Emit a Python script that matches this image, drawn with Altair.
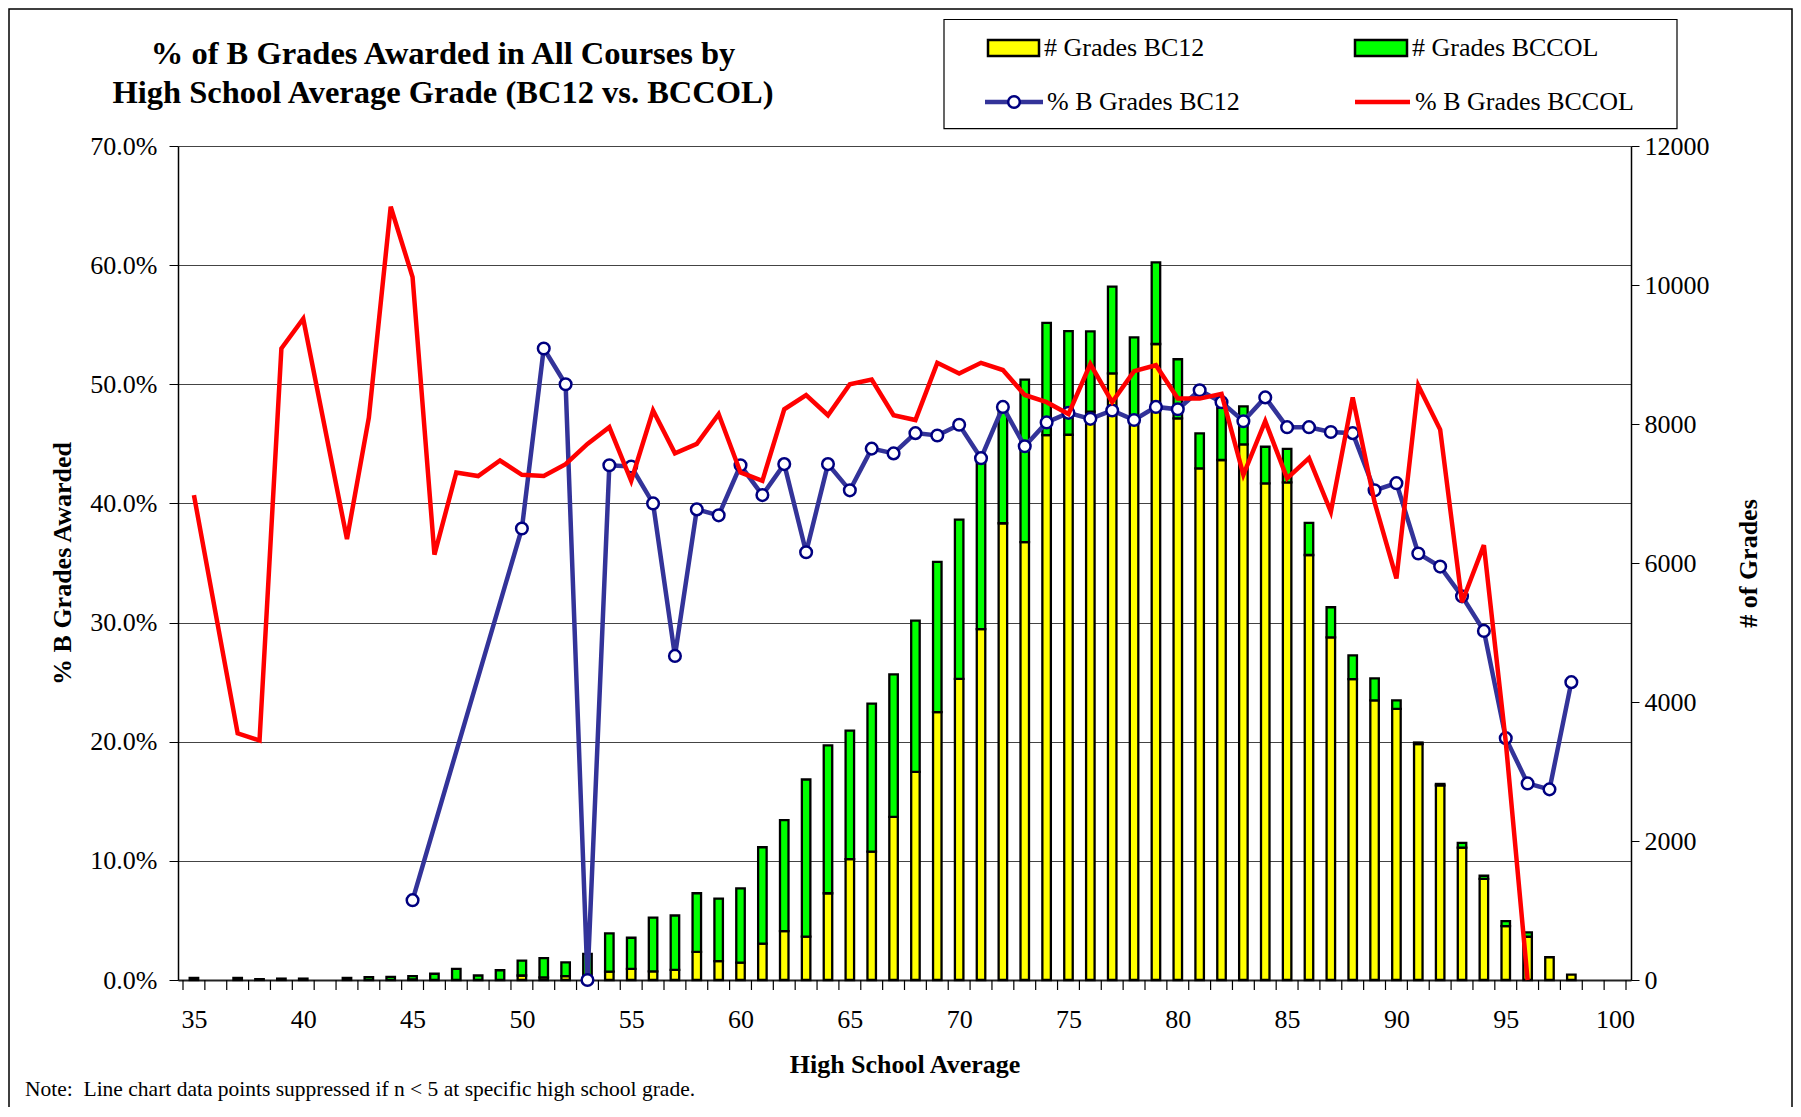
import altair as alt
import pandas as pd

SERIF = "Liberation Serif"

# ---- data ----
categories = list(range(35, 101))

total_grades = [30, 0, 30, 12, 20, 20, 0, 30, 40, 45,
                55, 90, 160, 65, 140, 280, 315, 255, 375, 670,
                608, 897, 928, 1248, 1170, 1318, 1910, 2300, 2885, 3376,
                3587, 3977, 4398, 5170, 6015, 6625, 7500, 8280, 8638, 9455,
                9337, 9333, 9976, 9247, 10326, 8932, 7866, 8232, 8255, 7673,
                7641, 6577, 5363, 4670, 4340, 4024, 3417, 2821, 1974, 1500,
                846, 686, 327, 77, 0, 0]

bc12_grades = [0, 0, 0, 0, 0, 0, 0, 0, 0, 0,
               8, 0, 0, 0, 0, 65, 37, 56, 20, 120,
               160, 125, 145, 405, 273, 250, 522, 702, 624, 1248,
               1739, 1848, 2347, 2994, 3855, 4333, 5048, 6572, 6299, 7840,
               7845, 8177, 8729, 8024, 9151, 8082, 7362, 7482, 7708, 7146,
               7160, 6115, 4930, 4329, 4022, 3900, 3395, 2800, 1904, 1455,
               776, 622, 327, 77, 0, 0]

N = None
pct_b_bc12 = [N, N, N, N, N, N, N, N, N, N,
              6.7, N, N, N, N, 37.9, 53.0, 50.0, 0.0, 43.2,
              43.1, 40.0, 27.2, 39.5, 39.0, 43.2, 40.7, 43.3, 35.9, 43.3,
              41.1, 44.6, 44.2, 45.9, 45.7, 46.6, 43.8, 48.1, 44.8, 46.8,
              47.6, 47.1, 47.8, 47.0, 48.1, 47.9, 49.5, 48.5, 46.9, 48.9,
              46.4, 46.4, 46.0, 45.9, 41.1, 41.7, 35.8, 34.7, 32.2, 29.3,
              20.3, 16.5, 16.0, 25.0, N, N]

pct_b_bccol = [40.7, N, 20.7, 20.1, 53.0, 55.5, N, 37.0, 47.2, 64.9,
               59.0, 35.7, 42.6, 42.3, 43.6, 42.4, 42.3, 43.3, 45.0, 46.4,
               41.9, 47.8, 44.2, 45.0, 47.5, 42.6, 41.9, 47.9, 49.1, 47.4,
               50.0, 50.4, 47.4, 47.0, 51.8, 50.9, 51.8, 51.2, 49.1, 48.5,
               47.5, 51.7, 48.5, 51.1, 51.6, 48.8, 48.8, 49.2, 42.4, 46.9,
               42.1, 43.8, 39.3, 48.9, 40.1, 33.7, 49.9, 46.2, 31.7, 36.5,
               20.0, 0.0, N, N, N, N]

x_label_values = list(range(35, 101, 5))
pct_ticks = [0, 10, 20, 30, 40, 50, 60, 70]
count_ticks = [0, 2000, 4000, 6000, 8000, 10000, 12000]

df = pd.DataFrame({
    "cat": categories,
    "total": total_grades,
    "bc12": bc12_grades,
    "p12": pct_b_bc12,
    "pcol": pct_b_bccol,
})
bounds = pd.DataFrame({"b": [c - 0.5 for c in categories] + [categories[-1] + 0.5]})
one = pd.DataFrame({"k": [0]})

W, H = 1453, 834

xscale = alt.Scale(domain=[34.5, 100.5], nice=False, zero=False)
xaxis = alt.Axis(values=x_label_values, ticks=False, grid=False,
                 domainColor="#222222", domainWidth=2,
                 labelFont=SERIF, labelFontSize=26, labelColor="black", labelPadding=26,
                 title="High School Average", titleFont=SERIF, titleFontSize=26,
                 titleFontWeight="bold", titleColor="black", titlePadding=19)
X = alt.X("cat:Q", scale=xscale, axis=xaxis)

count_axis = alt.Axis(orient="right", values=count_ticks, format="d", grid=False,
                      domainColor="black", domainWidth=1.5, tickColor="black", tickSize=8,
                      labelFont=SERIF, labelFontSize=26, labelColor="black", labelPadding=5,
                      title="# of Grades", titleFont=SERIF, titleFontSize=26,
                      titleFontWeight="bold", titleColor="black", titleAngle=270,
                      titlePadding=52, zindex=0)
count_scale = alt.Scale(domain=[0, 12000], nice=False)

pct_axis = alt.Axis(orient="left", values=pct_ticks, grid=True, gridColor="#444444",
                    gridWidth=1, labelExpr="format(datum.value, '.1f') + '%'",
                    domainColor="black", domainWidth=1.5, tickColor="black", tickSize=9,
                    labelFont=SERIF, labelFontSize=26, labelColor="black", labelPadding=12,
                    title="% B Grades Awarded", titleFont=SERIF, titleFontSize=26,
                    titleFontWeight="bold", titleColor="black", titlePadding=14, zindex=0)
pct_scale = alt.Scale(domain=[0, 70], nice=False)

base = alt.Chart(df)

yellow = base.transform_filter("datum.bc12 > 0").mark_bar(
    size=8.5, color="#FFFF00", stroke="black", strokeWidth=2.3
).encode(x=X, y=alt.Y("bc12:Q", scale=count_scale, axis=count_axis))

green = base.transform_filter("datum.total > datum.bc12").mark_bar(
    size=8.5, color="#00FF00", stroke="black", strokeWidth=2.3
).encode(x=X, y=alt.Y("total:Q", scale=count_scale, axis=count_axis), y2="bc12:Q")

bars = alt.layer(yellow, green)

blue_line = base.transform_filter("datum.p12 != null").mark_line(
    color="#333399", strokeWidth=4.5
).encode(x=X, y=alt.Y("p12:Q", scale=pct_scale, axis=pct_axis))

blue_pts = base.transform_filter("datum.p12 != null").mark_circle(
    color="white", stroke="#000080", strokeWidth=2.5, size=135, opacity=1
).encode(x=X, y=alt.Y("p12:Q", scale=pct_scale, axis=pct_axis))

red_line = base.transform_filter("datum.pcol != null").mark_line(
    color="#FF0000", strokeWidth=4.5
).encode(x=X, y=alt.Y("pcol:Q", scale=pct_scale, axis=pct_axis))

lines = alt.layer(blue_line, blue_pts, red_line)

xticks = alt.Chart(bounds).mark_rule(color="black", strokeWidth=1.2).encode(
    x=alt.X("b:Q", scale=xscale, axis=xaxis), y=alt.value(H), y2=alt.value(H + 10)
)

def txt(x, y, s, size=26, weight="normal", align="left"):
    return alt.Chart(one).mark_text(
        text=s, font=SERIF, fontSize=size, fontWeight=weight, align=align,
        baseline="middle", color="black"
    ).encode(x=alt.value(x), y=alt.value(y))

def box(x, x2, y, y2, fill, stroke="black", sw=1.2, op=1):
    return alt.Chart(one).mark_rect(fill=fill, fillOpacity=op, stroke=stroke, strokeWidth=sw).encode(
        x=alt.value(x), x2=alt.value(x2), y=alt.value(y), y2=alt.value(y2)
    )

def seg(x, x2, y, color, w=4.5):
    return alt.Chart(one).mark_rule(color=color, strokeWidth=w).encode(
        x=alt.value(x), x2=alt.value(x2), y=alt.value(y)
    )

frame = box(-169, 1614, -137, 1000, "white", sw=1.5, op=0)

legend = alt.layer(
    box(766, 1499, -126.5, -17.4, "white"),
    box(810, 861, -106, -90, "#FFFF00", sw=2.5),
    txt(866, -98, "# Grades BC12"),
    box(1177, 1229, -106, -90, "#00FF00", sw=2.5),
    txt(1234, -98, "# Grades BCCOL"),
    seg(807, 865, -44, "#333399"),
    alt.Chart(one).mark_circle(color="white", stroke="#000080", strokeWidth=2.5, size=135, opacity=1)
    .encode(x=alt.value(836), y=alt.value(-44)),
    txt(869, -44, "% B Grades BC12"),
    seg(1177, 1232, -44, "#FF0000"),
    txt(1237, -44, "% B Grades BCCOL"),
)

titles = alt.layer(
    txt(265, -92, "% of B Grades Awarded in All Courses by", size=32.5, weight="bold", align="center"),
    txt(265, -53, "High School Average Grade (BC12 vs. BCCOL)", size=32.5, weight="bold", align="center"),
    txt(-153, 944, "Note:\u00a0 Line chart data points suppressed if n < 5 at specific high school grade.", size=21.5),
)

chart = alt.layer(
    frame, bars, lines, xticks, legend, titles
).resolve_scale(y="independent").properties(
    width=W, height=H,
    autosize=alt.AutoSizeParams(type="none"),
    padding={"left": 170, "top": 138, "right": 162, "bottom": 127},
    background="white",
).configure_view(stroke=None)

chart.save("out.html", embed_options={"renderer": "svg", "actions": False})
